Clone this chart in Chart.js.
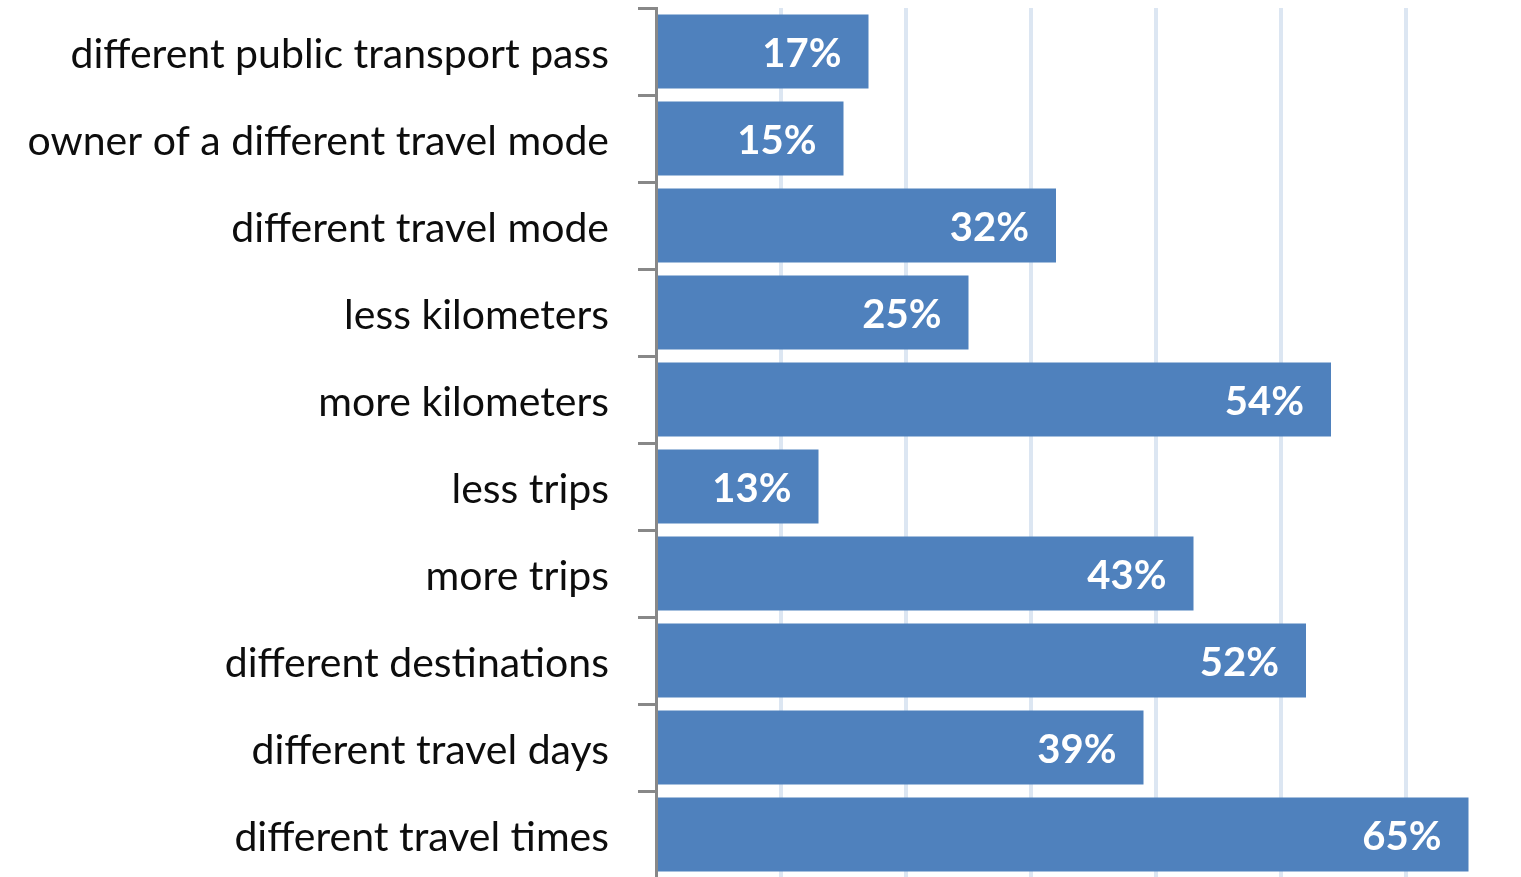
<!DOCTYPE html>
<html lang="en">
<head>
    <meta charset="UTF-8">
    <title>Changes in travel behaviour</title>
    <script src="https://cdn.jsdelivr.net/npm/chart.js"></script>
    <style>
        html, body { margin: 0; padding: 0; overflow: hidden; background: #fff; }
        #wrap { position: absolute; left: 0; top: 0; width: 1531px; height: 878px; }
    </style>
</head>
<body>
    <div id="wrap">
        <canvas id="myChart"></canvas>
    </div>
    <script>
        const categories = [
            "different public transport pass",
            "owner of a different travel mode",
            "different travel mode",
            "less kilometers",
            "more kilometers",
            "less trips",
            "more trips",
            "different destinations",
            "different travel days",
            "different travel times"
        ];
        const shares = [17, 15, 32, 25, 54, 13, 43, 52, 39, 65];
        const gridSteps = [10, 20, 30, 40, 50, 60];

        // white value text at the inner end of each bar
        const valueLabels = {
            id: 'valueLabels',
            afterDatasetsDraw(chart) {
                const ctx = chart.ctx;
                const meta = chart.getDatasetMeta(0);
                ctx.save();
                ctx.fillStyle = '#ffffff';
                ctx.font = 'bold 40px Lato';
                ctx.textAlign = 'right';
                ctx.textBaseline = 'middle';
                meta.data.forEach((bar, i) => {
                    ctx.fillText(shares[i] + '%', bar.x - 27, bar.y + 3);
                });
                ctx.restore();
            }
        };

        let ctx = document.getElementById('myChart').getContext('2d');
        let myChart = new Chart(ctx, {
            type: 'bar',
            data: {
                labels: categories,
                datasets: [{
                    data: shares,
                    backgroundColor: '#4f81bd',
                    borderWidth: 0,
                    barPercentage: 0.85,
                    categoryPercentage: 1
                }]
            },
            options: {
                indexAxis: 'y',
                responsive: true,
                maintainAspectRatio: false,
                animation: false,
                layout: { padding: { top: 8, right: 0, bottom: 0, left: 0 } },
                plugins: {
                    legend: { display: false },
                    tooltip: { enabled: false }
                },
                scales: {
                    x: {
                        min: 0,
                        max: 70,
                        ticks: { display: false, stepSize: 10 },
                        border: { display: false },
                        grid: {
                            drawTicks: false,
                            lineWidth: 4,
                            color: (c) => gridSteps.includes(c.tick.value) ? '#dce6f2' : 'rgba(0,0,0,0)'
                        },
                        afterFit: (scale) => {
                            scale.height = 0;
                            scale.paddingLeft = 0;
                            scale.paddingRight = 0;
                        }
                    },
                    y: {
                        ticks: {
                            color: '#0d0d0d',
                            font: { family: 'Lato', size: 41 },
                            padding: 29,
                            labelOffset: 3
                        },
                        border: { display: true, color: '#888888', width: 3 },
                        grid: {
                            offset: true,
                            drawOnChartArea: false,
                            drawTicks: true,
                            tickLength: 18,
                            tickWidth: 3,
                            tickColor: '#888888'
                        },
                        afterFit: (scale) => {
                            scale.width = 656;
                            scale.paddingTop = 0;
                            scale.paddingBottom = 0;
                        }
                    }
                }
            },
            plugins: [valueLabels]
        });
    </script>
</body>
</html>
